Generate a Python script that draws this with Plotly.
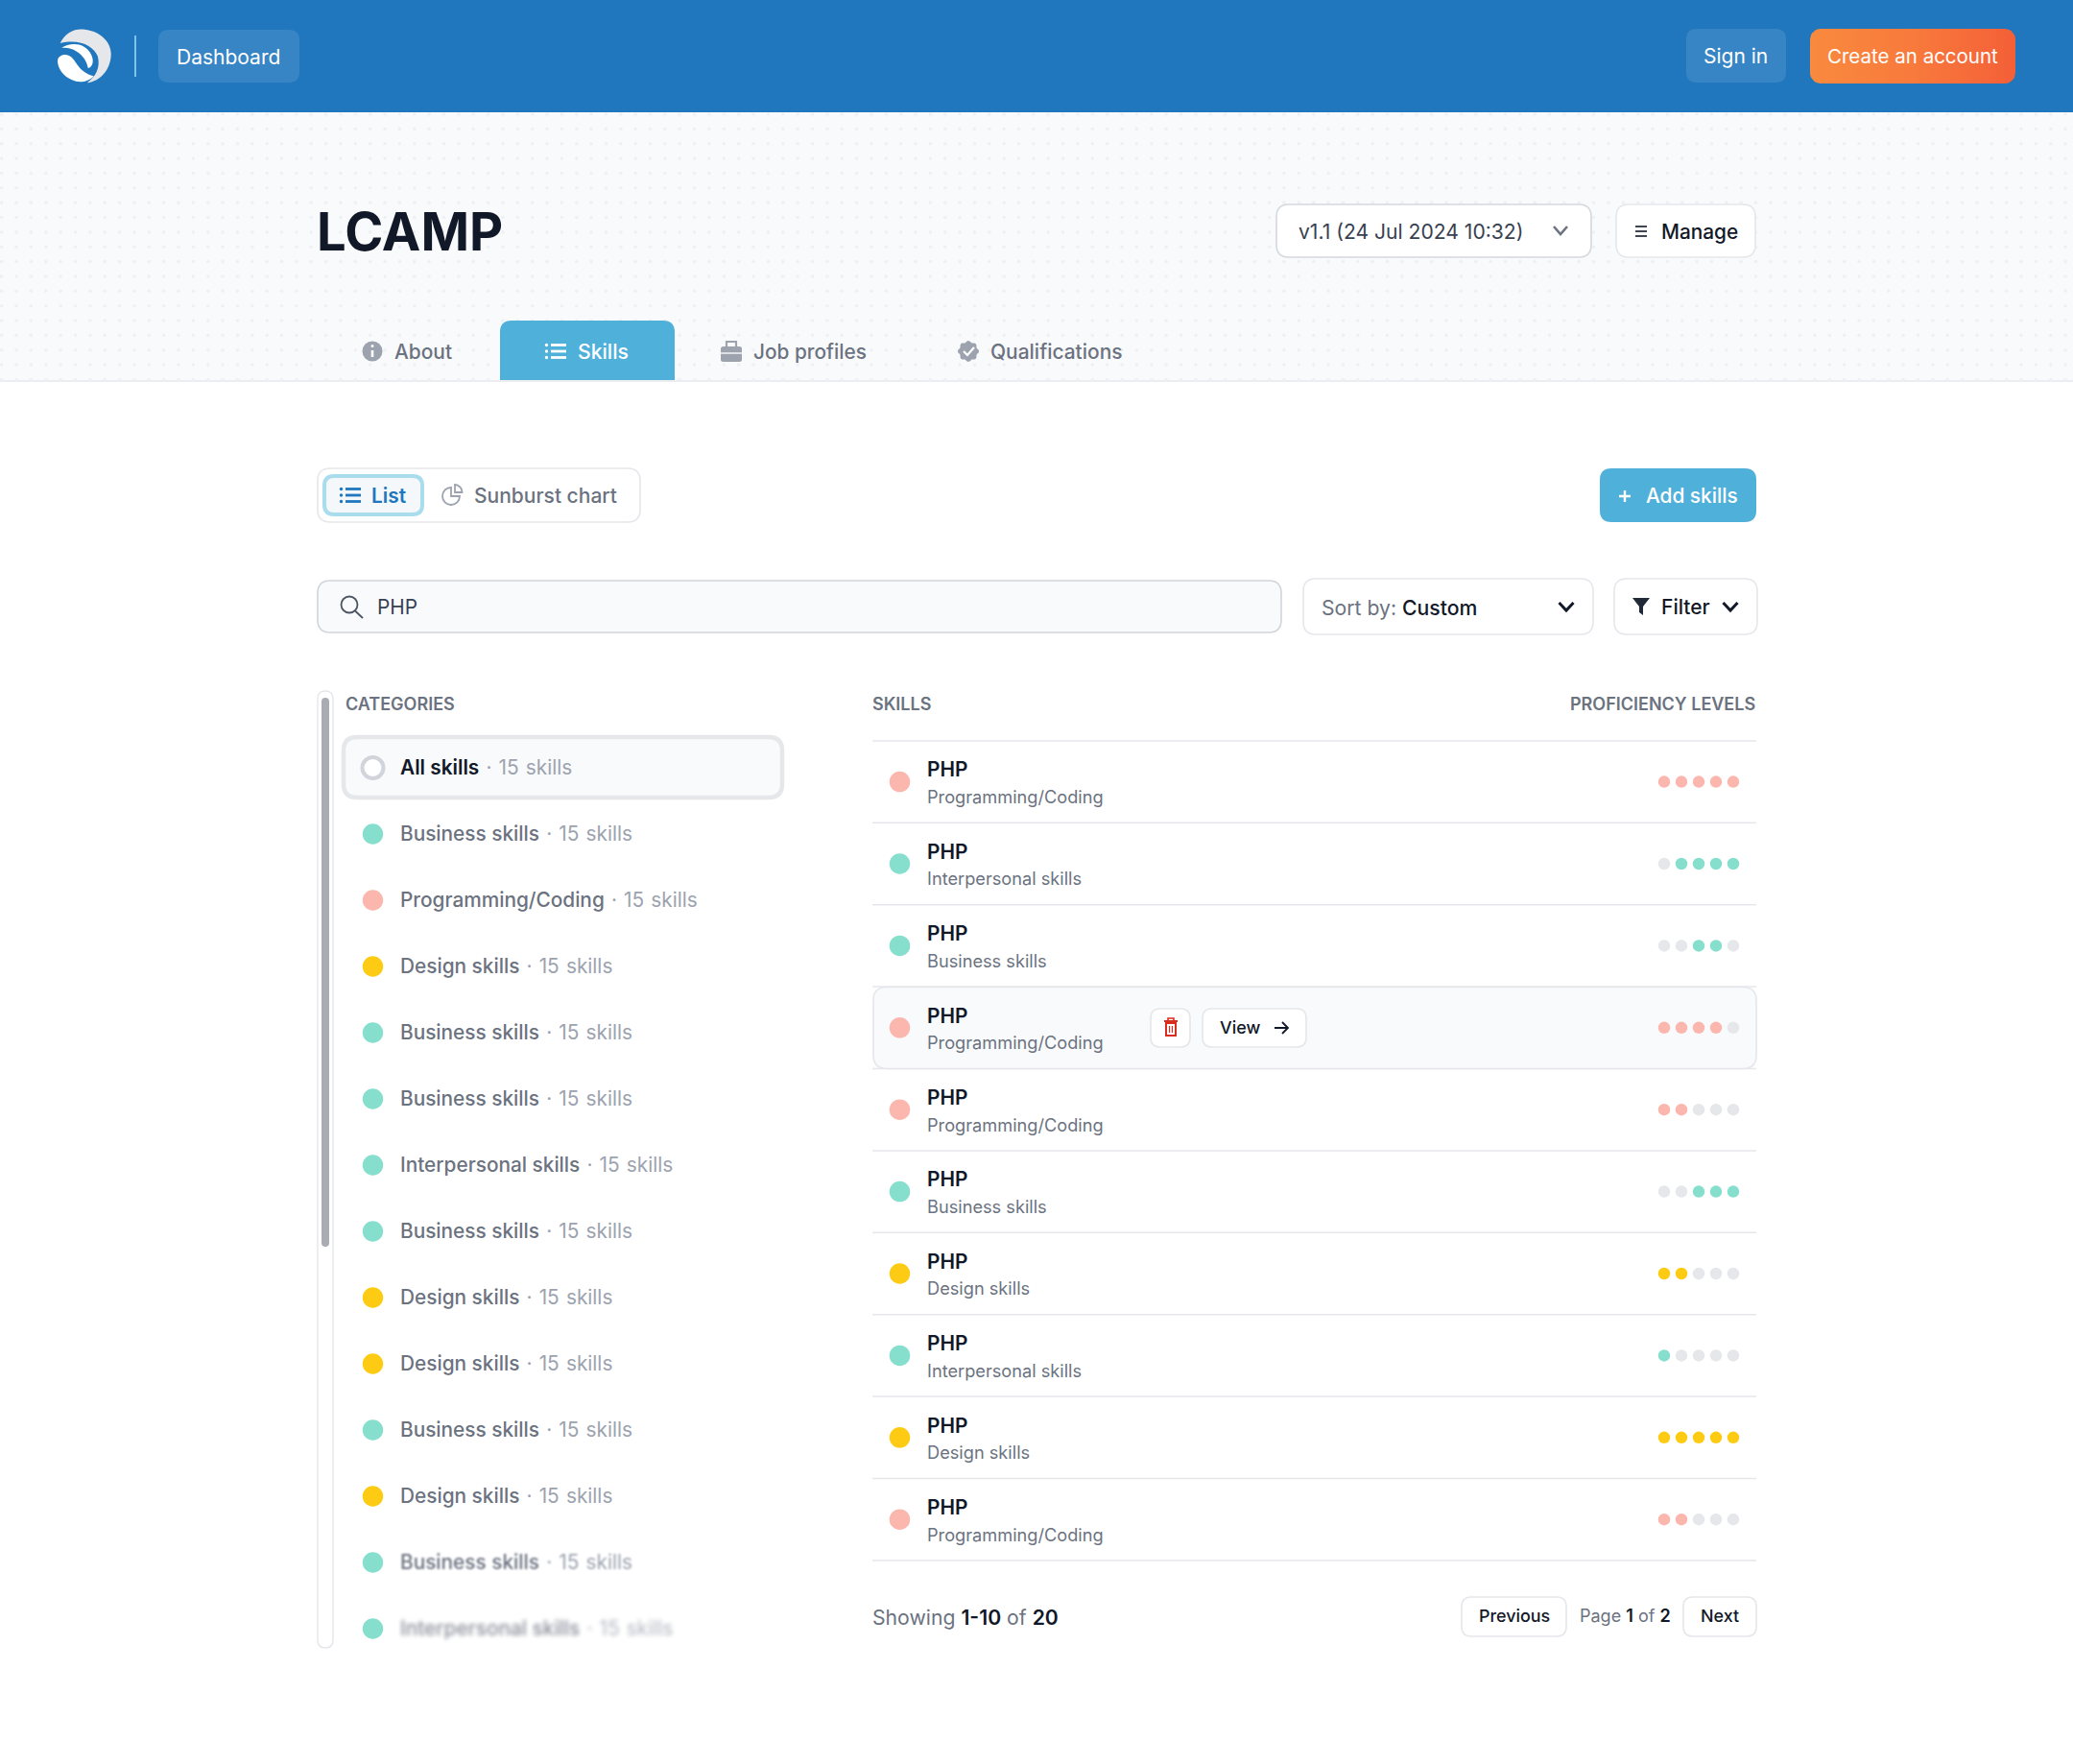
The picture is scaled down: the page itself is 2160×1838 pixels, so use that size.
import plotly.graph_objects as go
import numpy as np

# data
categories = ["Business skills", "Programming/Coding", "Design skills", "Business skills",
              "Business skills", "Interpersonal skills", "Business skills", "Design skills",
              "Design skills", "Business skills", "Design skills", "Business skills",
              "Interpersonal skills"]
skill_names = ["PHP"] * 10
skill_cats = ["Programming/Coding", "Interpersonal skills", "Business skills", "Programming/Coding",
              "Programming/Coding", "Business skills", "Design skills", "Interpersonal skills",
              "Design skills", "Programming/Coding"]
skill_levels = [[1, 1, 1, 1, 1], [0, 1, 1, 1, 1], [0, 0, 1, 1, 0], [1, 1, 1, 1, 0], [1, 1, 0, 0, 0],
                [0, 0, 1, 1, 1], [1, 1, 0, 0, 0], [1, 0, 0, 0, 0], [1, 1, 1, 1, 1], [1, 1, 0, 0, 0]]
skills_per_cat = 15
cat_colors = {"Business skills": "#86dfcd", "Interpersonal skills": "#86dfcd",
              "Programming/Coding": "#fbb6ae", "Design skills": "#fdcb14"}

W, H = 2160, 1838
FONT = "Inter"
DARK = "#111827"
GREY = "#6b7280"
LIGHT = "#9ca3af"
BORDER = "#e5e7eb"
ICON = "#9ca3af"

fig = go.Figure()
shapes = []
notes = []


def rr(x0, y0, x1, y1, r):
    return (f"M{x0+r},{y0} L{x1-r},{y0} Q{x1},{y0} {x1},{y0+r} L{x1},{y1-r} Q{x1},{y1} {x1-r},{y1} "
            f"L{x0+r},{y1} Q{x0},{y1} {x0},{y1-r} L{x0},{y0+r} Q{x0},{y0} {x0+r},{y0} Z")


def path(d, fill=None, line=None, width=0, layer="above"):
    s = dict(type="path", path=d, xref="x", yref="y", layer=layer, line=dict(width=width))
    if fill:
        s["fillcolor"] = fill
    if line:
        s["line"]["color"] = line
    shapes.append(s)


def box(x0, y0, x1, y1, r, fill=None, line=None, width=0, layer="above"):
    path(rr(x0, y0, x1, y1, r), fill, line, width, layer)


def circle(cx, cy, r, fill=None, line=None, width=0):
    shapes.append(dict(type="circle", x0=cx-r, x1=cx+r, y0=cy-r, y1=cy+r, xref="x", yref="y",
                       fillcolor=fill or "rgba(0,0,0,0)",
                       line=dict(width=width, color=line or "rgba(0,0,0,0)")))


def text(x, y, s, size=20.8, color=DARK, weight=400, anchor="left"):
    notes.append(dict(x=x, y=y, text=s, showarrow=False, xref="x", yref="y", xanchor=anchor,
                      yanchor="middle", borderpad=0, borderwidth=0,
                      font=dict(family=FONT, size=size, color=color, weight=weight)))


def chevron(cx, cy, w, h, color, width=2.6):
    path(f"M{cx-w/2},{cy-h/2} L{cx},{cy+h/2} L{cx+w/2},{cy-h/2}", line=color, width=width)


def list_icon(x0, cy, w, color, width=2.8):
    for dy in (-6.5, 0, 6.5):
        path(f"M{x0+6},{cy+dy} L{x0+w},{cy+dy}", line=color, width=width)
        circle(x0+1.5, cy+dy, 1.7, fill=color)


def count_span(n):
    return (f"<span style='color:{LIGHT};font-weight:400;word-spacing:1.3px'> · {n} skills</span>")


# page background and header
box(0, 117, W, 396, 0.01, fill="#f9fafb", layer="below")
shapes.append(dict(type="line", x0=0, x1=W, y0=397, y1=397, xref="x", yref="y", layer="below",
                   line=dict(color=BORDER, width=1.6)))
box(0, 0, W, 117, 0.01, fill="#2077bd", layer="below")

grid_x, grid_y = np.meshgrid(np.arange(1.7, W, 15.36), np.arange(119, 396, 15.36))
fig.add_trace(go.Scatter(x=grid_x.ravel(), y=grid_y.ravel(), mode="markers", hoverinfo="skip",
                         marker=dict(size=3.6, color="#eef0f3", line=dict(width=0))))

# logo
path("M62.7,45 C68.3,33.3 78.3,29.3 88.3,30.7 C105,32.7 115.7,44 115.7,56 C115.7,71.7 105,85 90.7,86.3 "
     "C100,80 105,70 101.7,58.3 C97.7,48.3 83.3,40 62.7,45 Z", fill="#e5e7eb")
path("M64,50 C73.3,44 88.3,44 95,56.7 C98.3,63.3 96.7,70 91.7,71 C90.7,61.7 80,48.3 64,50 Z", fill="#ffffff")
path("M60,63.3 C60.7,57.3 68.3,55 74,59.3 C80.7,65 81.7,75 97.7,79.3 C91.7,86 81.7,86.7 75,83.3 "
     "C66.7,80 60,71.7 60,63.3 Z", fill="#ffffff")
path("M141,37 L141,80", line="#8accef", width=1.8)

# header buttons
box(165, 31, 312, 86, 11, fill="#3785c4")
text(237.5, 59, "Dashboard", color="#ffffff", anchor="center", weight=400, size=21)
box(1757, 30, 1861, 86, 11, fill="#3785c4")
text(1808.5, 58, "Sign in", color="#ffffff", anchor="center", weight=400, size=21)

# create account button with a left to right gradient
bx0, by0, bx1, by1, br = 1886, 30, 2100, 87, 11
ang = np.linspace(0, np.pi/2, 8)
btn_x = np.r_[bx1-br+br*np.sin(ang), bx1-br+br*np.cos(ang), bx0+br-br*np.sin(ang), bx0+br-br*np.cos(ang)]
btn_y = np.r_[by0+br-br*np.cos(ang), by1-br+br*np.sin(ang), by1-br+br*np.cos(ang), by0+br-br*np.sin(ang)]
fig.add_trace(go.Scatter(x=btn_x, y=btn_y, mode="lines", fill="toself", line=dict(width=0), hoverinfo="skip",
                         fillgradient=dict(type="horizontal",
                                           colorscale=[[0, "#f98a3e"], [0.5, "#f87a3c"], [1, "#f45f38"]])))
text(1992.5, 58, "Create an account", color="#ffffff", anchor="center", weight=400, size=20.5)

# title row
text(330, 241, "LCAMP", size=54.3, color=DARK, weight=700)
box(1330, 213, 1658, 268, 13, fill="#ffffff", line="#d5d8de", width=1.6)
text(1353, 241, "v1.1 (24 Jul 2024 10:32)", color="#374151", size=21.1)
chevron(1626, 240, 14, 8, GREY)
box(1684, 213, 1829, 268, 13, fill="#ffffff", line=BORDER, width=1.6)
for dy in (-5, 0, 5):
    path(f"M1704,{241+dy} L1716,{241+dy}", line=DARK, width=1.6)
text(1731, 241, "Manage", color=DARK, weight=500)

# tabs
path("M521,396 L521,346 Q521,334 533,334 L691,334 Q703,334 703,346 L703,396 Z", fill="#4fb0da")
circle(388, 366, 10.5, fill=ICON)
path("M388,365 L388,372", line="#ffffff", width=2.6)
circle(388, 360.5, 1.5, fill="#ffffff")
text(411, 366, "About", color=GREY, weight=500, size=20.9)
list_icon(568, 366, 22, "#ffffff")
text(601.5, 366, "Skills", color="#ffffff", weight=500, size=21.2)
box(751, 361, 773, 377, 2.5, fill=ICON)
path("M757,361 L757,356 L767,356 L767,361", line=ICON, width=2.2)
path("M751,368 L773,368", line="#f9fafb", width=1.4)
text(785, 366, "Job profiles", color=GREY, weight=500)
# scalloped badge
a = np.linspace(0, 2*np.pi, 49)
bx = 1009 + (10.2 + 0.9*np.cos(8*a)) * np.cos(a)
by = 366 + (10.2 + 0.9*np.cos(8*a)) * np.sin(a)
path("M" + " L".join(f"{u:.1f},{v:.1f}" for u, v in zip(bx, by)) + " Z", fill=ICON)
path("M1004,366 L1008,370 L1015,362", line="#ffffff", width=2.2)
text(1032, 366, "Qualifications", color=GREY, weight=500, size=20.95)

# view switcher
box(331, 488, 667, 544, 13, fill="#ffffff", line=BORDER, width=1.6)
box(338, 496, 440, 536, 10, fill="#f4f8fb", line="#a9dcec", width=4)
list_icon(354, 516, 22, "#2077bd")
text(387, 516, "List", color="#2077bd", weight=600)
path("M470,508 C464.8,508 461,512 461,517 C461,522 465,526 470,526 C475,526 479,522 479,517 L470,517 Z",
     line=ICON, width=1.8)
path("M474,505 C478,505 481.5,508.5 481.5,513 L474,513 Z", line=ICON, width=1.8)
text(494, 516, "Sunburst chart", color=GREY, weight=500, size=21)
box(1667, 488, 1830, 544, 12, fill="#4fb0da")
path("M1687,517 L1699,517 M1693,511 L1693,523", line="#ffffff", width=2.4)
text(1715, 516.5, "Add skills", color="#ffffff", weight=500)

# search row
box(331, 605, 1335, 659, 13, fill="#f9fafb", line="#d1d5db", width=1.6)
circle(364, 630, 8.5, line="#4b5563", width=1.8)
path("M370,636.5 L378,644", line="#4b5563", width=1.8)
text(393, 632.7, "PHP", color="#374151")
box(1358, 603, 1660, 661, 13, fill="#ffffff", line=BORDER, width=1.6)
text(1377, 632.5, f"Sort by: <span style='color:{DARK};font-weight:500'>Custom</span>", color=GREY, size=21.2)
chevron(1632, 632, 15, 8, DARK, 3)
box(1682, 603, 1831, 661, 13, fill="#ffffff", line=BORDER, width=1.6)
path("M1701,623 L1719,623 L1712,632 L1712,641 L1708,638 L1708,632 Z", fill="#1f2937")
text(1731, 632.7, "Filter", color=DARK, weight=500, size=21)
chevron(1803, 632, 15, 8, DARK, 3)

# categories column
box(331, 720, 347, 1717, 8, fill="#ffffff", line=BORDER, width=1.4)
box(335, 727, 343, 1299, 4, fill="#a9acb3")
text(360, 733, "CATEGORIES", size=18, color=GREY, weight=600)
box(358, 768, 815, 831, 14, fill="#f9fafb", line=BORDER, width=4.5, layer="below")
circle(388.5, 800, 11, fill="#ffffff", line="#d1d5db", width=4)
text(417, 799.5, "All skills" + count_span(skills_per_cat), color=DARK, weight=600)

cat_y = [800 + 69 * (i + 1) for i in range(len(categories))]
fig.add_trace(go.Scatter(x=[388.5] * len(categories), y=cat_y, mode="markers", hoverinfo="skip",
                         marker=dict(size=21.5, color=[cat_colors[c] for c in categories], line=dict(width=0))))
for c, y in zip(categories, cat_y):
    text(417, y - 0.4, c + count_span(skills_per_cat), color=GREY, weight=500)

# skills table
text(909, 733, "SKILLS", size=18, color=GREY, weight=600)
text(1829, 733, "PROFICIENCY LEVELS", size=18, color=GREY, weight=600, anchor="right")
row_y = [814.6 + 85.4 * i for i in range(len(skill_names))]
for i in range(len(skill_names) + 1):
    y = 771.9 + 85.4 * i
    shapes.append(dict(type="line", x0=909, x1=1830, y0=y, y1=y, xref="x", yref="y", layer="below",
                       line=dict(color=BORDER, width=1.5)))
box(910, 1028.5, 1830, 1113.5, 14, fill="#f9fafb", line=BORDER, width=1.6, layer="below")

fig.add_trace(go.Scatter(x=[937.5] * len(skill_cats), y=row_y, mode="markers", hoverinfo="skip",
                         marker=dict(size=21.5, color=[cat_colors[c] for c in skill_cats], line=dict(width=0))))
lvl_x, lvl_y, lvl_c = [], [], []
for y, c, levels in zip(row_y, skill_cats, skill_levels):
    for j, on in enumerate(levels):
        lvl_x.append(1734 + 18 * j)
        lvl_y.append(y)
        lvl_c.append(cat_colors[c] if on else BORDER)
fig.add_trace(go.Scatter(x=lvl_x, y=lvl_y, mode="markers", hoverinfo="skip",
                         marker=dict(size=12.5, color=lvl_c, line=dict(width=0))))
for name, c, y in zip(skill_names, skill_cats, row_y):
    text(966, y - 12.8, name, color=DARK, weight=600)
    text(966, y + 15.3, c, size=18.2, color=GREY)

# hover buttons on the fourth row
box(1199, 1051, 1240, 1091, 10, fill="#ffffff", line=BORDER, width=1.6)
path("M1215,1066 L1225,1066 L1225,1079 L1215,1079 Z", line="#d92d20", width=2)
path("M1213,1064 L1227,1064", line="#d92d20", width=2)
path("M1217,1064 L1217,1061 L1223,1061 L1223,1064", line="#d92d20", width=1.6)
path("M1218.5,1069 L1218.5,1076 M1221.5,1069 L1221.5,1076", line="#d92d20", width=1.2)
box(1253, 1051, 1361, 1091, 10, fill="#ffffff", line=BORDER, width=1.6)
text(1271, 1070.5, "View", size=17.9, color=DARK, weight=500)
path("M1328,1071 L1342,1071 M1336,1065 L1342,1071 L1336,1077", line=DARK, width=1.8)

# pagination
text(909, 1685, f"Showing <span style='color:{DARK};font-weight:600'>1-10</span> of "
     f"<span style='color:{DARK};font-weight:600'>20</span>", color=GREY, size=21.2)
box(1523, 1664, 1632, 1705, 10, fill="#ffffff", line=BORDER, width=1.6)
text(1577.5, 1683.5, "Previous", size=17.9, color=DARK, weight=500, anchor="center")
text(1646, 1683.5, f"Page <span style='color:{DARK};font-weight:600'>1</span> of "
     f"<span style='color:{DARK};font-weight:600'>2</span>", size=18, color=GREY)
box(1754, 1664, 1830, 1705, 10, fill="#ffffff", line=BORDER, width=1.6)
text(1792, 1683.5, "Next", size=17.9, color=DARK, weight=500, anchor="center")

fig.update_layout(
    width=W, height=H, margin=dict(l=0, r=0, t=0, b=0, pad=0),
    paper_bgcolor="#ffffff", plot_bgcolor="#ffffff",
    showlegend=False, shapes=shapes, annotations=notes,
    xaxis=dict(range=[0, W], visible=False, fixedrange=True),
    yaxis=dict(range=[H, 0], visible=False, fixedrange=True),
)

# page margin off, and the soft fade on the last two category rows
post = """
document.body.style.margin = '0';
document.body.style.overflow = 'hidden';
setTimeout(function () {
  var notes = document.querySelectorAll('.annotation-text');
  var rows = Array.from(notes).filter(function (n) { return n.textContent.indexOf('15 skills') > 0; });
  rows[rows.length - 2].style.filter = 'blur(0.8px)';
  rows[rows.length - 1].style.filter = 'blur(2.2px)';
  rows[rows.length - 1].style.opacity = '0.8';
}, 30);
"""
fig.write_html("out.html", post_script=post, config={"displayModeBar": False})
